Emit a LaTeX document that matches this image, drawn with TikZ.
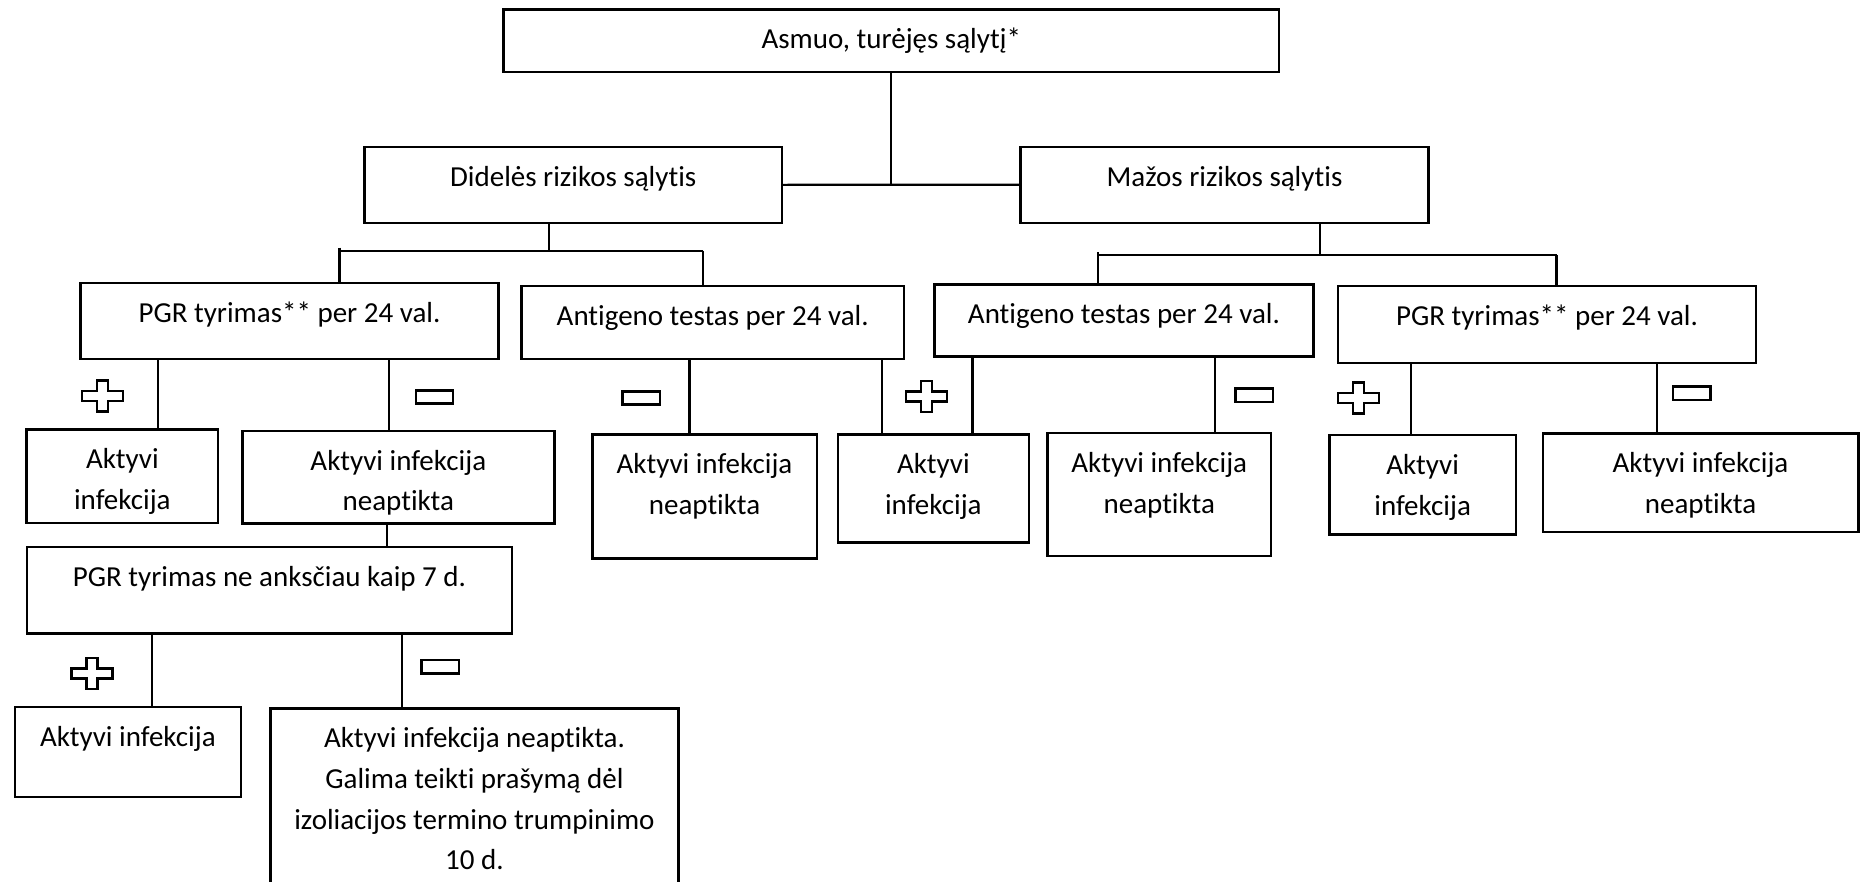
\documentclass[tikz,border=0pt]{standalone}
\usepackage{fontspec}
\setmainfont{Carlito}[Ligatures=NoCommon]
\newcommand{\bxt}[3]{\parbox[c][#2pt][t]{#1pt}{\centering\rule{0pt}{39.5pt}#3\par}}
\tikzset{
  box/.style={draw, line width=2.4pt, inner sep=0pt, outer sep=0pt, anchor=north west,
    font=\fontsize{29}{40.7}\selectfont},
  conn/.style={line width=2.2pt},
  sign/.style={line width=2.5pt, line join=miter},
  plussign/.pic={\draw[sign] (-5.5,-15.5) -- (5.5,-15.5) -- (5.5,-5) -- (20.5,-5) -- (20.5,5)
     -- (5.5,5) -- (5.5,15.5) -- (-5.5,15.5) -- (-5.5,5) -- (-20.5,5) -- (-20.5,-5) -- (-5.5,-5) -- cycle;},
  minussign/.pic={\draw[sign] (-18.7,-6.7) rectangle (18.7,6.7);},
}
\begin{document}
\begin{tikzpicture}[x=1pt,y=-1pt]
\useasboundingbox (0,0) rectangle (1865,881);
\clip (0,0) rectangle (1865,881);
% boxes
\node[box] (top)  at (503.5,9.3)   {\bxt{775.5}{62.4}{Asmuo, turėjęs sąlytį*}};
\node[box] (did)  at (364.5,146.7) {\bxt{417.5}{76.3}{Didelės rizikos sąlytis}};
\node[box] (maz)  at (1020.5,146.7){\bxt{408}{76}{Mažos rizikos sąlytis}};
\node[box] (pgr1) at (80.6,282.7)  {\bxt{417.7}{76.3}{PGR tyrimas** per 24 val.}};
\node[box] (ant1) at (521.4,285.7) {\bxt{382.5}{73}{Antigeno testas per 24 val.}};
\node[box] (ant2) at (934.4,284.3) {\bxt{379}{72}{Antigeno testas per 24 val.}};
\node[box] (pgr2) at (1338.2,286)  {\bxt{417.5}{76.7}{PGR tyrimas** per 24 val.}};
\node[box] (ai1)  at (26.6,429.3)  {\bxt{191.5}{93.4}{Aktyvi\\infekcija}};
\node[box] (ain1) at (242.3,430.7) {\bxt{312}{92.8}{Aktyvi infekcija\\neaptikta}};
\node[box] (ain2) at (592.3,434.3) {\bxt{224.4}{124}{Aktyvi infekcija\\neaptikta}};
\node[box] (ai2)  at (837.7,434.3) {\bxt{191.3}{108}{Aktyvi\\infekcija}};
\node[box] (ain3) at (1047.5,433)  {\bxt{223.5}{123}{Aktyvi infekcija\\neaptikta}};
\node[box] (ai3)  at (1329.3,435)  {\bxt{186.7}{99.3}{Aktyvi\\infekcija}};
\node[box] (ain4) at (1542.7,433.3){\bxt{315.6}{98.4}{Aktyvi infekcija\\neaptikta}};
\node[box] (pgr7) at (26.7,546.7)  {\bxt{485.5}{86.6}{PGR tyrimas ne anksčiau kaip 7 d.}};
\node[box] (ai4)  at (14.7,706.7)  {\bxt{226.3}{90}{Aktyvi infekcija}};
\node[box] (fin)  at (270.3,708.3) {\bxt{408.3}{190}{Aktyvi infekcija neaptikta.\\Galima teikti prašymą dėl\\izoliacijos termino trumpinimo\\10 d.}};
% bus coordinates
\coordinate (dbL) at (339.5,250.7);
\coordinate (dbR) at (702.7,250.7);
\coordinate (dbM) at (549.3,250.7);
\coordinate (mbL) at (1097.6,255.3);
\coordinate (mbR) at (1556.5,255.3);
\coordinate (mbM) at (1320.3,255.3);
\coordinate (c1) at (157.8,0);
\coordinate (c2) at (389.3,0);
\coordinate (c3) at (387.3,0);
\coordinate (c4) at (689.5,0);
\coordinate (c5) at (881.7,0);
\coordinate (c6) at (972.5,0);
\coordinate (c7) at (1215,0);
\coordinate (c8) at (1411,0);
\coordinate (c9) at (1657.3,0);
\coordinate (c10) at (151.8,0);
\coordinate (c11) at (401.8,0);
% connectors
\draw[conn] (top.south) -- (top.south |- did.east);
\draw[conn] (did.east) -- (maz.west);
\draw[conn] (dbM |- did.south) -- (dbM);
\draw[conn] (dbL) -- (dbR);
\draw[conn] ([yshift=3pt]dbL) -- (dbL |- pgr1.north);
\draw[conn] (dbR) -- (dbR |- ant1.north);
\draw[conn] (mbM |- maz.south) -- (mbM);
\draw[conn] (mbL) -- (mbR);
\draw[conn] ([yshift=3pt]mbL) -- (mbL |- ant2.north);
\draw[conn] (mbR) -- (mbR |- pgr2.north);
\draw[conn] (c1 |- pgr1.south) -- (c1 |- ai1.north);
\draw[conn] (c2 |- pgr1.south) -- (c2 |- ain1.north);
\draw[conn] (c3 |- ain1.south) -- (c3 |- pgr7.north);
\draw[conn] (c4 |- ant1.south) -- (c4 |- ain2.north);
\draw[conn] (c5 |- ant1.south) -- (c5 |- ai2.north);
\draw[conn] (c6 |- ant2.south) -- (c6 |- ai2.north);
\draw[conn] (c7 |- ant2.south) -- (c7 |- ain3.north);
\draw[conn] (c8 |- pgr2.south) -- (c8 |- ai3.north);
\draw[conn] (c9 |- pgr2.south) -- (c9 |- ain4.north);
\draw[conn] (c10 |- pgr7.south) -- (c10 |- ai4.north);
\draw[conn] (c11 |- pgr7.south) -- (c11 |- fin.north);
% signs
\pic at (102.3,396) {plussign};
\pic at (434.5,397) {minussign};
\pic at (641.2,398) {minussign};
\pic at (926.7,396.3) {plussign};
\pic at (1254.2,395.2) {minussign};
\pic at (1358.3,398) {plussign};
\pic at (1691.8,393.3) {minussign};
\pic at (92.2,673.7) {plussign};
\pic at (440.4,666.7) {minussign};
\end{tikzpicture}
\end{document}
